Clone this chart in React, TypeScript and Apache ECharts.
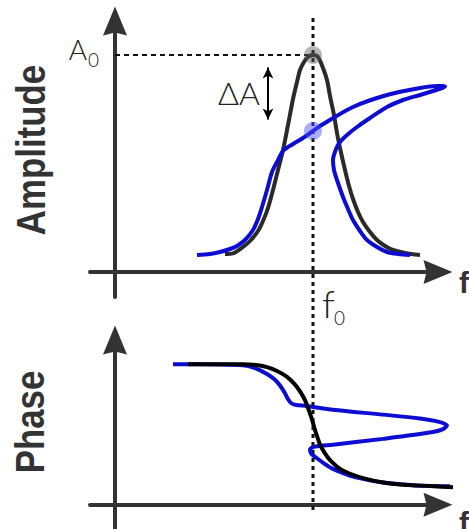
import React, { useEffect, useRef } from "react";
import * as echarts from "echarts";

// Frequency units: arbitrary (f0 = 99). Amplitude / phase: arbitrary units.
const F0 = 99;
const A0 = 108.5;
const A_DRIVEN = 70.5;
const DELTA_X = 76.5;
const DELTA_ENDS = [102.25, 76.25];

const F_RANGE = [-12.5, 161.5];
const F_RANGE_WIDE = [-12.5, 172.5];
const AMP_RANGE = [-12.5, 125.5];
const PHASE_RANGE = [-12.5, 85];

const ampLinear: [number, number][] = [
  [55, 9], [59, 9.3], [64, 12.5], [67.5, 15.5], [71.5, 20.5], [74, 25.5], [76.5, 32], [79, 41],
  [81.5, 51], [84, 61], [86.5, 73.5], [89, 86.5], [91, 95], [92.5, 101], [94.5, 105],
  [96.5, 107.5], [99, 108.5], [101.5, 107.5], [104, 102], [106, 96], [107.5, 88],
  [109.5, 78.5], [111, 69.5], [112.5, 62], [115, 51], [117, 43], [119, 36.5], [121.5, 30],
  [124, 25], [127.5, 20], [131, 16], [135, 13], [139, 11], [145, 9.5], [152.5, 8.5],
];

const ampNonlinear: [number, number][] = [
  [41, 8.5], [47.5, 9], [52.5, 10], [57.5, 11.5], [61, 13], [65, 16], [69, 21], [71.5, 26.5],
  [73.5, 32.5], [76, 41], [78.5, 50], [81, 55], [84, 60.5], [89, 64], [94, 67], [99, 70.5],
  [102.5, 73], [119, 82.5], [136, 88.5], [152.5, 92], [161, 93], [165, 92.75],
  [162.5, 91.5], [159, 90.5], [152.5, 88.5], [144, 86], [136, 82.5], [127.5, 77],
  [121, 72.5], [116, 68.5], [112.5, 65], [110.5, 61.5], [109, 56], [109.5, 51], [111, 46],
  [114, 37.5], [116.5, 31.5], [119, 26], [122.5, 20.5], [126, 16], [131, 12.5], [136, 10],
  [141.5, 9], [147.5, 8.5],
];

const phaseLinear: [number, number][] = [
  [36.5, 72.5], [52.5, 72.5], [64, 72.5], [71.5, 72], [76, 71], [81, 69], [86, 66], [90, 62],
  [92.5, 58.5], [95, 54], [96.5, 50], [98.5, 44], [100, 38.5], [101.5, 34], [102.5, 31],
  [105, 26.5], [107.5, 23], [112.5, 18.5], [117.5, 16], [125, 13.5], [134, 11.5],
  [142.5, 10.5], [151, 10], [160, 9.5], [169, 9],
];

const phaseNonlinear: [number, number][] = [
  [29, 72.5], [42.5, 72.5], [64, 72], [70, 70.5], [76, 67.5], [80, 64.5], [82.5, 61.5],
  [85, 57.5], [86.5, 54.5], [88, 52.5], [90.5, 51.5], [96, 51], [109, 49], [134, 46.5],
  [152.5, 44.5], [161, 43], [166, 41], [164, 39], [159, 37.5], [134, 34], [109, 31],
  [100, 30], [97.5, 28.5], [98, 26.5], [101, 24], [105, 21], [109, 18.5], [115, 16],
  [121, 14], [134, 11.5], [151, 10], [167.5, 9.5],
];

const AXIS_COLOR = "#333333";
const BLUE = "#0c0cd2";
const ARROW = "path://M12,0 L24,29 L12,26 L0,29 Z";

function axisBase(gridIndex: number, range: number[], visible: boolean) {
  return {
    type: "value" as const,
    gridIndex,
    min: range[0],
    max: range[1],
    axisLine: {
      show: visible,
      onZero: true,
      symbol: ["none", ARROW],
      symbolSize: [25, 29],
      lineStyle: { color: AXIS_COLOR, width: 4 },
    },
    axisTick: { show: false },
    axisLabel: { show: false },
    splitLine: { show: false },
  };
}

export default function App() {
  const ref = useRef<HTMLDivElement>(null);

  useEffect(() => {
    if (!ref.current) return;
    const chart = echarts.init(ref.current, null, { renderer: "svg" });
    chart.setOption({
      animation: false,
      grid: [
        { left: 90, right: 31, top: 21, bottom: 232 },
        { left: 90, right: 31, top: 340, bottom: -6 },
        { left: 90, right: 31, top: 15, bottom: 19 },
        { left: 90, right: 9, top: 21, bottom: 232 },
        { left: 90, right: 9, top: 340, bottom: -6 },
      ],
      xAxis: [
        axisBase(0, F_RANGE, true),
        axisBase(1, F_RANGE, true),
        axisBase(2, F_RANGE, false),
        axisBase(3, F_RANGE_WIDE, false),
        axisBase(4, F_RANGE_WIDE, false),
      ],
      yAxis: [
        axisBase(0, AMP_RANGE, true),
        axisBase(1, PHASE_RANGE, true),
        axisBase(2, [0, 1], false),
        axisBase(3, AMP_RANGE, false),
        axisBase(4, PHASE_RANGE, false),
      ],
      series: [
        {
          type: "line",
          xAxisIndex: 2,
          yAxisIndex: 2,
          data: [[F0, 0], [F0, 1]],
          symbol: "none",
          lineStyle: { color: "#111", width: 3, type: [4, 4] },
          z: 1,
        },
        {
          type: "line",
          xAxisIndex: 0,
          yAxisIndex: 0,
          data: [[0, A0], [F0, A0]],
          symbol: "none",
          lineStyle: { color: "#111", width: 2, type: [5, 4] },
          markLine: {
            silent: true,
            symbol: ["arrow", "arrow"],
            symbolSize: [8, 11],
            label: { show: false },
            lineStyle: { color: "#000", width: 2, type: "solid" },
            data: [[{ coord: [DELTA_X, DELTA_ENDS[0]] }, { coord: [DELTA_X, DELTA_ENDS[1]] }]],
          },
          z: 2,
        },
        {
          type: "line",
          xAxisIndex: 3,
          yAxisIndex: 3,
          data: ampLinear,
          symbol: "none",
          smooth: 0.3,
          clip: false,
          lineStyle: { color: "#2a2a2a", width: 4 },
          z: 3,
        },
        {
          type: "line",
          xAxisIndex: 3,
          yAxisIndex: 3,
          data: ampNonlinear,
          symbol: "none",
          smooth: 0.3,
          clip: false,
          lineStyle: { color: BLUE, width: 4 },
          z: 4,
        },
        {
          type: "scatter",
          xAxisIndex: 0,
          yAxisIndex: 0,
          data: [
            { value: [F0, A0], itemStyle: { color: "rgba(90,90,90,0.55)" } },
            { value: [F0, A_DRIVEN], itemStyle: { color: "rgba(80,80,255,0.6)" } },
          ],
          symbolSize: 18,
          z: 6,
        },
        {
          type: "line",
          xAxisIndex: 4,
          yAxisIndex: 4,
          data: phaseNonlinear,
          symbol: "none",
          smooth: 0.3,
          clip: false,
          lineStyle: { color: BLUE, width: 4 },
          z: 3,
        },
        {
          type: "line",
          xAxisIndex: 4,
          yAxisIndex: 4,
          data: phaseLinear,
          symbol: "none",
          smooth: 0.3,
          clip: false,
          lineStyle: { color: "#000", width: 4 },
          z: 4,
        },
      ],
    });

    const px = (g: number, pt: number[]) =>
      chart.convertToPixel({ gridIndex: g } as any, pt) as unknown as number[];
    const [ox, oyA0] = px(0, [0, A0]);
    const [fx, axisY] = px(0, [F0, 0]);
    const [dax, daTop] = px(0, [DELTA_X, A0]);
    const [, daBot] = px(0, [DELTA_X, A_DRIVEN]);

    const thin = { fontFamily: "Lato", fontWeight: 300, fill: "#222" };
    const bold = { fontFamily: "Liberation Sans, Arial", fontWeight: "bold", fill: AXIS_COLOR };

    chart.setOption({
      graphic: [
        { type: "text", x: 31, y: 150, rotation: Math.PI / 2, scaleX: 0.85,
          style: { ...bold, text: "Amplitude", fontSize: 41, align: "center", verticalAlign: "middle" } },
        { type: "text", x: 30, y: 422, rotation: Math.PI / 2, scaleX: 0.85,
          style: { ...bold, text: "Phase", fontSize: 41, align: "center", verticalAlign: "middle" } },
        { type: "text", x: 459, y: 282.6,
          style: { ...bold, text: "f", fontSize: 30, align: "left", verticalAlign: "middle" } },
        { type: "text", x: 459, y: 522.6,
          style: { ...bold, text: "f", fontSize: 30, align: "left", verticalAlign: "middle" } },
        { type: "text", x: ox - 28, y: oyA0 - 5.8,
          style: { ...thin, text: "A", fontSize: 28, align: "right", verticalAlign: "middle" } },
        { type: "text", x: ox - 27, y: oyA0 + 4.6,
          style: { ...thin, text: "0", fontSize: 19, align: "left", verticalAlign: "middle" } },
        { type: "text", x: dax - 8, y: (daTop + daBot) / 2 - 0.5,
          style: { ...thin, text: "ΔA", fontSize: 32, align: "right", verticalAlign: "middle" } },
        { type: "text", x: fx + 9, y: axisY + 31,
          style: { ...thin, text: "f", fontSize: 38, align: "left", verticalAlign: "middle" } },
        { type: "text", x: fx + 21, y: axisY + 45.6,
          style: { ...thin, text: "0", fontSize: 19, align: "left", verticalAlign: "middle" } },
      ],
    });

    return () => chart.dispose();
  }, []);

  return (
    <div
      ref={ref}
      style={{ position: "fixed", left: 0, top: 0, width: 469, height: 529, background: "#fff" }}
    />
  );
}
